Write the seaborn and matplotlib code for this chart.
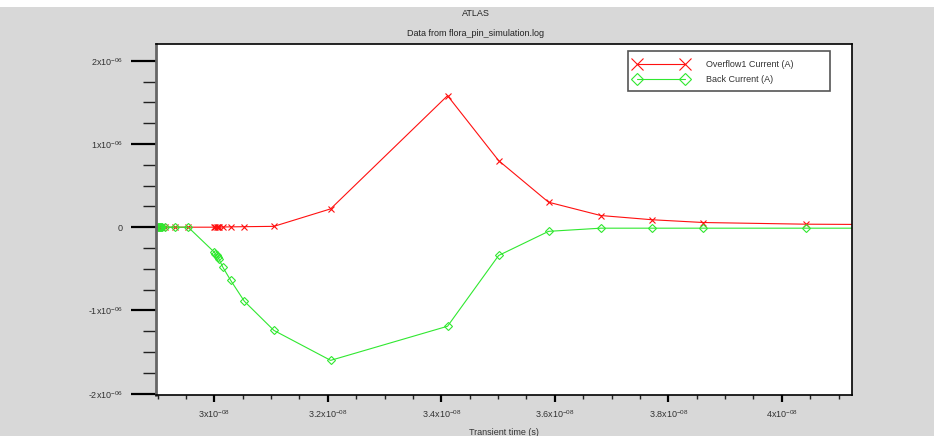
import matplotlib
matplotlib.use("Agg")
import matplotlib.pyplot as plt
import matplotlib.patches as mpatches
from matplotlib.ticker import FixedLocator, MultipleLocator, FuncFormatter
import numpy as np
import pandas as pd
import seaborn as sns

# Transient time (units of 1e-8 s) and currents (units of 1e-6 A)
time_e8 = [2.898, 2.900, 2.902, 2.904, 2.906, 2.908, 2.913, 2.931, 2.954,
           3.000, 3.002, 3.004, 3.006, 3.008, 3.015, 3.029, 3.053, 3.105,
           3.205, 3.411, 3.501, 3.589, 3.681, 3.772, 3.862, 4.042, 4.220]
overflow1_e6 = [0.0, 0.0, 0.0, 0.0, 0.0, 0.0, 0.0, 0.0, 0.0,
                0.0, 0.0, 0.0, 0.0, 0.0, 0.002, 0.004, 0.006, 0.01,
                0.22, 1.58, 0.80, 0.30, 0.14, 0.089, 0.056, 0.036, 0.03]
back_e6 = [0.0, 0.0, 0.0, 0.0, 0.0, 0.0, 0.0, 0.0, 0.0,
           -0.30, -0.32, -0.34, -0.36, -0.38, -0.48, -0.64, -0.89, -1.24,
           -1.60, -1.19, -0.34, -0.05, -0.012, -0.012, -0.012, -0.012, -0.012]

series_names = ["Overflow1 Current (A)", "Back Current (A)"]
yticks = [-2e-6, -1e-6, 0.0, 1e-6, 2e-6]
xticks = [3.0e-8, 3.2e-8, 3.4e-8, 3.6e-8, 3.8e-8, 4.0e-8]

t = np.array(time_e8) * 1e-8
df = pd.DataFrame({
    "time": np.concatenate([t, t]),
    "current": np.concatenate([np.array(overflow1_e6), np.array(back_e6)]) * 1e-6,
    "series": [series_names[0]] * len(t) + [series_names[1]] * len(t),
})

sns.set_theme(style="white")
plt.rcParams["font.family"] = ["Liberation Sans", "DejaVu Sans"]
plt.rcParams["mathtext.fontset"] = "custom"
plt.rcParams["mathtext.rm"] = "Liberation Sans"
plt.rcParams["axes.unicode_minus"] = False

W, H = 934, 436
PX = 72 / 100  # points per pixel at 100 dpi
fig = plt.figure(figsize=(W / 100, H / 100), dpi=100, facecolor="#d8d8d8")
# white strip along the top edge
fig.patches.append(mpatches.Rectangle((0, 1 - 7 / H), 1, 7 / H, transform=fig.transFigure,
                                      facecolor="white", edgecolor="none", zorder=0))

ax = fig.add_axes([156 / W, 1 - 394.5 / H, (852.3 - 156) / W, (394.5 - 44) / H])
ax.set_facecolor("white")

red = "#ff1010"
green = "#30e830"
sns.lineplot(data=df[df.series == series_names[0]], x="time", y="current",
             estimator=None, sort=False, color=red, lw=0.8, marker="x",
             markersize=5, markeredgecolor=red, markeredgewidth=0.8,
             ax=ax, label=series_names[0])
sns.lineplot(data=df[df.series == series_names[1]], x="time", y="current",
             estimator=None, sort=False, color=green, lw=0.8, marker="D",
             markersize=4, markerfacecolor="none", markeredgecolor=green,
             markeredgewidth=0.8, ax=ax, label=series_names[1])

ax.set_xlim(2.8973e-8, 4.1242e-8)
ax.set_ylim(-2.01e-6, 2.2006e-6)


def sci(v, exp):
    if abs(v) < 1e-30:
        return "0"
    m = v / 10.0 ** exp
    ms = ("%.1f" % m).rstrip("0").rstrip(".")
    return ms + "x10$^{\\mathregular{-%02d}}$" % (-exp)


ax.xaxis.set_major_locator(FixedLocator(xticks))
ax.xaxis.set_minor_locator(MultipleLocator(0.05e-8))
ax.yaxis.set_major_locator(FixedLocator(yticks))
ax.yaxis.set_minor_locator(MultipleLocator(0.25e-6))
ax.xaxis.set_major_formatter(FuncFormatter(lambda v, p: sci(v, -8)))
ax.yaxis.set_major_formatter(FuncFormatter(lambda v, p: sci(v, -6)))

ax.tick_params(axis="y", which="major", direction="out", length=25 * PX, width=2.2 * PX,
               color="black", labelsize=6.5, labelcolor="#333333", pad=8 * PX, left=True)
ax.tick_params(axis="y", which="minor", direction="out", length=13 * PX, width=1.4 * PX,
               color="#222222", left=True)
ax.tick_params(axis="x", which="major", direction="out", length=7 * PX, width=2.2 * PX,
               color="black", labelsize=6.5, labelcolor="#333333", pad=7 * PX, bottom=True)
ax.tick_params(axis="x", which="minor", direction="out", length=4 * PX, width=1.4 * PX,
               color="#222222", bottom=True)

for side in ["top", "right", "bottom"]:
    ax.spines[side].set_color("black")
    ax.spines[side].set_linewidth(1.2)
ax.spines["left"].set_color("#666666")
ax.spines["left"].set_linewidth(2.0)

ax.set_xlabel("Transient time (s)", fontsize=6.5, color="#333333")
ax.xaxis.set_label_coords(0.5, -0.095)
ax.set_ylabel("")

fig.text(476 / W, 1 - 14 / H, "ATLAS", ha="center", va="center", fontsize=6.5, color="#222222")
fig.text(476 / W, 1 - 34 / H, "Data from flora_pin_simulation.log", ha="center", va="center",
         fontsize=6.5, color="#222222")

# legend frame drawn as its own box, entries placed inside it
ax.add_patch(mpatches.Rectangle((628 / W, 1 - 91 / H), (830 - 628) / W, (91 - 51) / H,
                                transform=fig.transFigure, facecolor="white",
                                edgecolor="#555555", linewidth=1.2, zorder=4, clip_on=False))
leg = ax.legend(loc="upper left", bbox_to_anchor=(628.5 / W, 1 - 55 / H),
                bbox_transform=fig.transFigure, borderaxespad=0, numpoints=2,
                handlelength=6.0, handletextpad=2.0, fontsize=6.5, frameon=False,
                markerscale=1.6, borderpad=0.6, labelspacing=0.65)
leg.set_zorder(5)
for txt in leg.get_texts():
    txt.set_color("#333333")

fig.savefig("out.png", dpi=100, facecolor=fig.get_facecolor())
